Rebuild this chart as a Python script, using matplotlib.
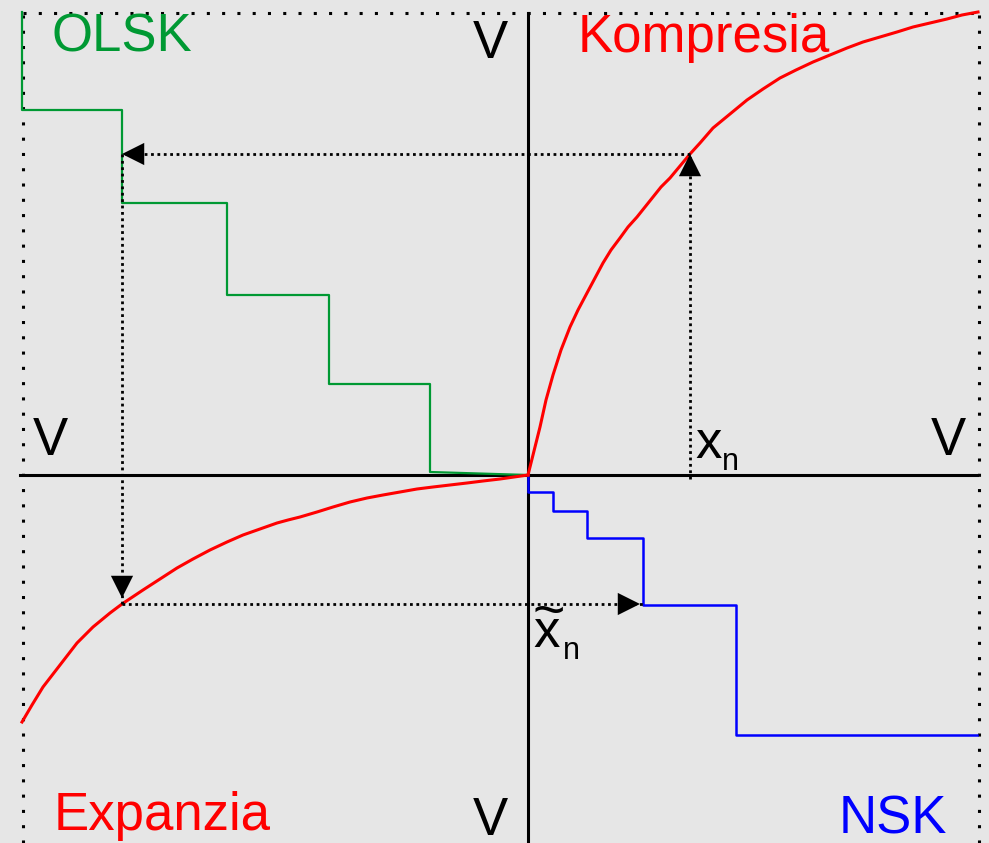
import matplotlib
matplotlib.use("Agg")
import matplotlib.pyplot as plt

plt.rcParams['font.family'] = ['Liberation Sans', 'DejaVu Sans']

# === Data (origin = crossing of the axes, y up) ===
# Kompresia curve (quadrant I)
komp_x = [0, 5, 12, 18, 25, 33, 42, 50, 59, 67, 75, 83, 92, 100, 109, 117, 125, 133, 142,
          152, 162, 172, 185, 202, 219, 235, 252, 268, 285, 302, 319, 335, 352, 369, 385,
          402, 419, 434, 450]
komp_y = [0, 20, 48, 75, 100, 125, 148, 165, 182, 197, 212, 225, 237, 248, 258, 268, 278,
          288, 297, 309, 321, 332, 347, 361, 375, 386, 397, 405, 413, 420, 427, 433, 438,
          443, 448, 452, 456, 460, 463]

# Expanzia curve (quadrant III)
exp_x = [-506, -496, -485, -468, -451, -435, -418, -406, -385, -368, -351, -335, -318,
         -301, -285, -268, -251, -240, -228, -211, -195, -178, -161, -145, -128, -111,
         -95, -78, -61, -45, -28, -14, 0]
exp_y = [-247, -230, -212, -190, -168, -152, -138, -129, -115, -104, -93, -84, -75,
         -67, -60, -54, -48, -45, -42, -37, -32, -27, -23, -20, -17, -14,
         -12, -10, -8, -6, -4, -2, 0]

# OLSK staircase (quadrant II)
olsk_x = [-506, -506, -406, -406, -301, -301, -199, -199, -98, -98, 0]
olsk_y = [463, 365, 365, 272, 272, 180, 180, 91, 91, 3, 0]

# NSK staircase (quadrant IV)
nsk_x = [0, 0, 25, 25, 59, 59, 115, 115, 208, 208, 449]
nsk_y = [0, -17, -17, -36, -36, -63, -63, -130, -130, -260, -260]

# mapping path x_n -> compressed -> OLSK -> expanded -> NSK
xn = 162
xn_comp = 321
olsk_level = -406
exp_level = -129
nsk_level = 115

RED = '#ff0000'
GREEN = '#009933'
BLUE = '#0000ff'
BG = '#e6e6e6'

# === Figure ===
fig = plt.figure(figsize=(9.89, 8.43), dpi=100, facecolor=BG)
W, H = 989, 843
ax = fig.add_axes([23 / W, 0, (979 - 23) / W, (843 - 13) / H])
ax.set_facecolor(BG)
ax.set_xlim(-505, 451)
ax.set_ylim(-368, 462)
ax.set_xticks([])
ax.set_yticks([])
for side in ['left', 'top', 'right']:
    ax.spines[side].set_linestyle((0, (1, 4)))
    ax.spines[side].set_linewidth(2.2)
    ax.spines[side].set_capstyle('butt')
    ax.spines[side].set_color('black')
ax.spines['bottom'].set_visible(False)

# main axes
ax.plot([-508, 449], [0, 0], color='black', lw=2.2, clip_on=False, zorder=2)
ax.plot([0, 0], [-368, 462], color='black', lw=2.2, clip_on=False, zorder=2)

# curves
ax.plot(komp_x, komp_y, color=RED, lw=2.2, clip_on=False, zorder=4, solid_joinstyle='round')
ax.plot(exp_x, exp_y, color=RED, lw=2.2, clip_on=False, zorder=4, solid_joinstyle='round')
ax.plot(olsk_x, olsk_y, color=GREEN, lw=1.6, clip_on=False, zorder=3)
ax.plot(nsk_x, nsk_y, color=BLUE, lw=1.8, clip_on=False, zorder=3)

# dotted mapping path
dot = dict(color='black', lw=2.0, linestyle=(0, (1, 1.3)), dash_capstyle='butt', zorder=5)
ax.plot([xn, xn], [-4, xn_comp], **dot)
ax.plot([xn, olsk_level], [xn_comp, xn_comp], **dot)
ax.plot([olsk_level, olsk_level], [xn_comp, exp_level], **dot)
ax.plot([olsk_level, nsk_level], [exp_level, exp_level], **dot)


def arrowhead(x, y, dx, dy):
    ax.annotate('', xy=(x, y), xytext=(-dx * 20, -dy * 20), textcoords='offset points',
                arrowprops=dict(arrowstyle='-|>,head_length=1.6,head_width=0.8',
                                mutation_scale=10, color='black', lw=0,
                                shrinkA=0, shrinkB=0), zorder=6)


arrowhead(xn, xn_comp, 0, 1)
arrowhead(olsk_level, xn_comp, -1, 0)
arrowhead(olsk_level, exp_level + 6, 0, -1)
arrowhead(nsk_level - 3, exp_level, 1, 0)

# labels
fs = 38
ax.text(-477, 424, 'OLSK', color=GREEN, fontsize=fs, va='baseline', ha='left')
ax.text(50, 423, 'Kompresia', color=RED, fontsize=fs, va='baseline', ha='left')
ax.text(-474, -355, 'Expanzia', color=RED, fontsize=fs, va='baseline', ha='left')
ax.text(419, -358, 'NSK', color=BLUE, fontsize=fs, va='baseline', ha='right')

ax.text(-38, 417, 'V', fontsize=fs, va='baseline', ha='center')
ax.text(-478, 20, 'V', fontsize=fs, va='baseline', ha='center')
ax.text(420, 20, 'V', fontsize=fs, va='baseline', ha='center')
ax.text(-38, -360, 'V', fontsize=fs, va='baseline', ha='center')

ax.text(167, 17, 'x', fontsize=fs, va='baseline', ha='left')
ax.text(194, 5, 'n', fontsize=22, va='baseline', ha='left')
ax.text(5, -172, 'x', fontsize=fs, va='baseline', ha='left')
ax.text(35, -184, 'n', fontsize=22, va='baseline', ha='left')
ax.text(21, -139, '~', fontsize=40, va='center', ha='center')

fig.savefig('out.png', dpi=100, facecolor=BG)
